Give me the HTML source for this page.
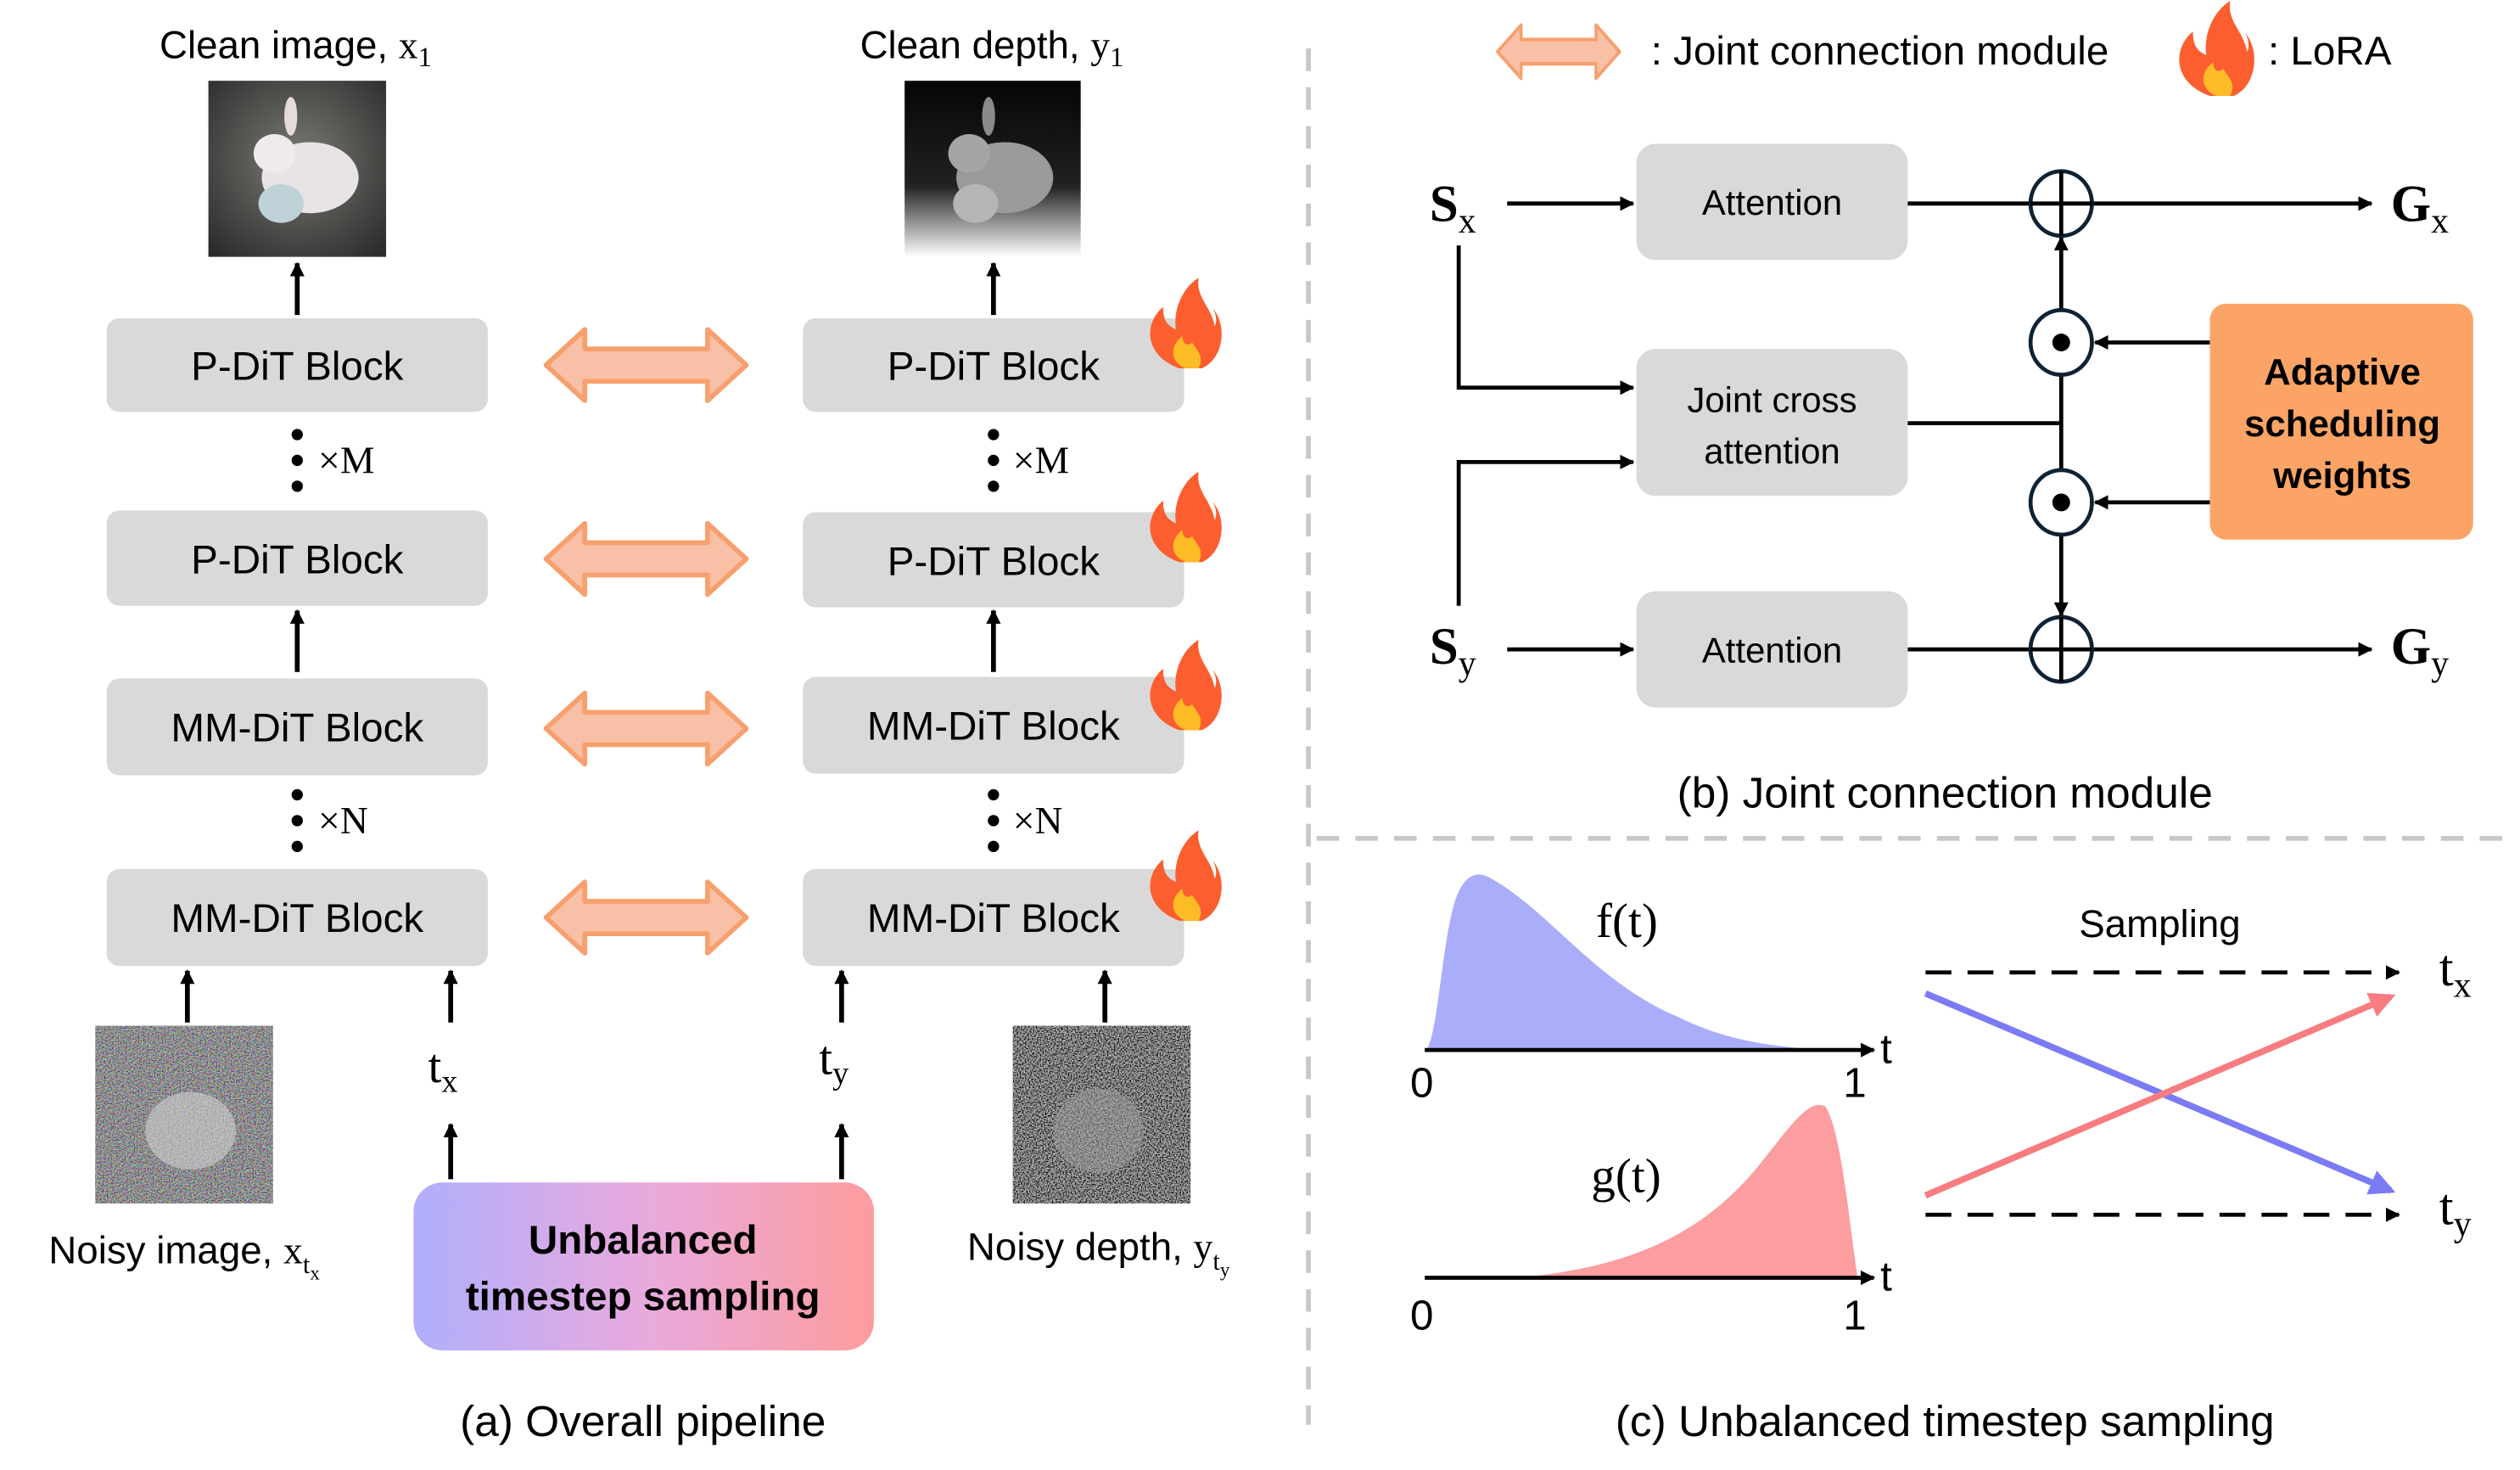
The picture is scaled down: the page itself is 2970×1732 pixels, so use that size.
<!DOCTYPE html>
<html><head><meta charset="utf-8"><style>
html,body{margin:0;padding:0;background:#fff}
svg{display:block}
text{font-family:"Liberation Sans","DejaVu Sans",sans-serif}
.s{font-family:"Liberation Serif","DejaVu Serif",serif}
</style></head><body>
<svg width="2970" height="1732" viewBox="0 0 1560 910" preserveAspectRatio="none" xmlns="http://www.w3.org/2000/svg">
<defs>
<marker id="ah" viewBox="0 0 10 10" refX="9" refY="5" markerWidth="9" markerHeight="9" markerUnits="userSpaceOnUse" orient="auto"><path d="M0,0L10,5L0,10z" fill="#000"/></marker>
<marker id="ahb" viewBox="0 0 10 10" refX="8" refY="5" markerWidth="4" markerHeight="4" orient="auto"><path d="M0,0L10,5L0,10z" fill="#7b7bf5"/></marker>
<marker id="ahr" viewBox="0 0 10 10" refX="8" refY="5" markerWidth="4" markerHeight="4" orient="auto"><path d="M0,0L10,5L0,10z" fill="#f87c80"/></marker>
<linearGradient id="ub" x1="0" x2="1"><stop offset="0" stop-color="#b0aefc"/><stop offset="0.5" stop-color="#e8aade"/><stop offset="1" stop-color="#fd9c9e"/></linearGradient>
<radialGradient id="cl" cx="0.5" cy="0.45" r="0.7"><stop offset="0" stop-color="#7a7a76"/><stop offset="1" stop-color="#2c2d2b"/></radialGradient>
<linearGradient id="dp" x1="0" y1="0" x2="0" y2="1"><stop offset="0" stop-color="#050505"/><stop offset="0.6" stop-color="#222"/><stop offset="1" stop-color="#fff"/></linearGradient>
<filter id="nz" x="0" y="0" width="1" height="1"><feTurbulence type="fractalNoise" baseFrequency="1.2" numOctaves="1" seed="3" result="t"/><feComponentTransfer in="t" result="c"><feFuncR type="linear" slope="3" intercept="-1"/><feFuncG type="linear" slope="3" intercept="-1"/><feFuncB type="linear" slope="3" intercept="-1"/><feFuncA type="linear" slope="0" intercept="0.5"/></feComponentTransfer><feComposite in="c" in2="SourceGraphic" operator="in" result="m"/><feBlend in="m" in2="SourceGraphic" mode="normal"/></filter>
<filter id="nzg" x="0" y="0" width="1" height="1"><feTurbulence type="fractalNoise" baseFrequency="1.2" numOctaves="1" seed="5" result="t"/><feColorMatrix in="t" type="saturate" values="0" result="g"/><feComponentTransfer in="g" result="c"><feFuncR type="linear" slope="4" intercept="-1.6"/><feFuncG type="linear" slope="4" intercept="-1.6"/><feFuncB type="linear" slope="4" intercept="-1.6"/><feFuncA type="linear" slope="0" intercept="0.5"/></feComponentTransfer><feComposite in="c" in2="SourceGraphic" operator="in" result="m"/><feBlend in="m" in2="SourceGraphic" mode="normal"/></filter>
<g id="dblarrow"><path d="M0,0 L24,-22 L24,-10 L100,-10 L100,-22 L124,0 L100,22 L100,10 L24,10 L24,22 Z" fill="#f8c0a6" stroke="#f7a06e" stroke-width="3" stroke-linejoin="round"/></g>
<g id="fire"><path d="M0,28 C-22,20 -22,0 -10,-10 C-10,0 -6,2 -2,4 C-4,-8 2,-22 12,-28 C10,-16 20,-10 22,2 C24,-2 22,-8 20,-10 C30,0 28,22 14,28 Z" fill="#fc5e2f"/><path d="M4,28 C-6,24 -6,14 2,8 C2,14 6,14 8,12 C10,16 16,20 12,28 Z" fill="#fdbb26"/></g>
</defs>

<line x1="810" y1="30" x2="810" y2="882" stroke="#c8c8c8" stroke-width="3" stroke-dasharray="14,10"/>
<line x1="815" y1="519" x2="1556" y2="519" stroke="#c8c8c8" stroke-width="3" stroke-dasharray="14,10"/>

<!-- (a) -->
<text x="183" y="36" font-size="24" text-anchor="middle">Clean image, <tspan class="s">x</tspan><tspan class="s" font-size="17" dy="5">1</tspan></text>
<text x="614" y="36" font-size="24" text-anchor="middle">Clean depth, <tspan class="s">y</tspan><tspan class="s" font-size="17" dy="5">1</tspan></text>
<rect x="129" y="50" width="110" height="109" fill="url(#cl)"/>
<ellipse cx="192" cy="110" rx="30" ry="22" fill="#e8e4e6"/><ellipse cx="170" cy="95" rx="13" ry="12" fill="#efebec"/><ellipse cx="180" cy="72" rx="4" ry="12" fill="#e6dada"/><ellipse cx="174" cy="126" rx="14" ry="12" fill="#bfd2d8"/>
<rect x="560" y="50" width="109" height="109" fill="url(#dp)"/>
<ellipse cx="622" cy="110" rx="30" ry="22" fill="#9a9a9a"/><ellipse cx="600" cy="95" rx="13" ry="12" fill="#a5a5a5"/><ellipse cx="612" cy="72" rx="4" ry="12" fill="#8a8a8a"/><ellipse cx="604" cy="126" rx="14" ry="12" fill="#b5b5b5"/>

<g fill="#d9d9d9">
<rect x="66" y="197" width="236" height="58" rx="8"/><rect x="66" y="316" width="236" height="59" rx="8"/>
<rect x="66" y="420" width="236" height="60" rx="8"/><rect x="66" y="538" width="236" height="60" rx="8"/>
<rect x="497" y="197" width="236" height="58" rx="8"/><rect x="497" y="317" width="236" height="59" rx="8"/>
<rect x="497" y="419" width="236" height="60" rx="8"/><rect x="497" y="538" width="236" height="60" rx="8"/>
</g>
<g font-size="25" text-anchor="middle">
<text x="184" y="235">P-DiT Block</text><text x="184" y="355">P-DiT Block</text>
<text x="184" y="459">MM-DiT Block</text><text x="184" y="577">MM-DiT Block</text>
<text x="615" y="235">P-DiT Block</text><text x="615" y="356">P-DiT Block</text>
<text x="615" y="458">MM-DiT Block</text><text x="615" y="577">MM-DiT Block</text>
</g>
<g fill="#000">
<circle cx="184" cy="269" r="3.5"/><circle cx="184" cy="285" r="3.5"/><circle cx="184" cy="301" r="3.5"/>
<circle cx="184" cy="492" r="3.5"/><circle cx="184" cy="508" r="3.5"/><circle cx="184" cy="524" r="3.5"/>
<circle cx="615" cy="269" r="3.5"/><circle cx="615" cy="285" r="3.5"/><circle cx="615" cy="301" r="3.5"/>
<circle cx="615" cy="492" r="3.5"/><circle cx="615" cy="508" r="3.5"/><circle cx="615" cy="524" r="3.5"/>
</g>
<g font-size="24"><text x="197" y="293" class="s">×M</text><text x="197" y="516" class="s">×N</text><text x="627" y="293" class="s">×M</text><text x="627" y="516" class="s">×N</text></g>

<g stroke="#000" stroke-width="3" marker-end="url(#ah)">
<line x1="184" y1="195" x2="184" y2="163"/><line x1="615" y1="195" x2="615" y2="163"/>
<line x1="184" y1="416" x2="184" y2="378"/><line x1="615" y1="416" x2="615" y2="378"/>
<line x1="116" y1="633" x2="116" y2="601"/><line x1="279" y1="633" x2="279" y2="601"/>
<line x1="521" y1="633" x2="521" y2="601"/><line x1="684" y1="633" x2="684" y2="601"/>
<line x1="279" y1="730" x2="279" y2="696"/><line x1="521" y1="730" x2="521" y2="696"/>
</g>
<use href="#dblarrow" x="338" y="226"/><use href="#dblarrow" x="338" y="346"/><use href="#dblarrow" x="338" y="451"/><use href="#dblarrow" x="338" y="568"/>
<use href="#fire" x="730" y="200"/><use href="#fire" x="730" y="320"/><use href="#fire" x="730" y="424"/><use href="#fire" x="730" y="542"/>

<text x="265" y="670" class="s" font-size="30">t<tspan font-size="20" dy="6">x</tspan></text>
<text x="507" y="665" class="s" font-size="30">t<tspan font-size="20" dy="6">y</tspan></text>

<rect x="59" y="635" width="110" height="110" fill="#4a4a52" filter="url(#nz)"/>
<ellipse cx="118" cy="700" rx="28" ry="24" fill="#d0d0d0" opacity="0.6"/>
<rect x="627" y="635" width="110" height="110" fill="#1e1e1e" filter="url(#nzg)"/>
<ellipse cx="680" cy="700" rx="28" ry="26" fill="#a0a0a0" opacity="0.5"/>
<text x="114" y="782" font-size="24" text-anchor="middle">Noisy image, <tspan class="s">x</tspan><tspan class="s" font-size="16" dy="6">t</tspan><tspan class="s" font-size="12" dy="4">x</tspan></text>
<text x="680" y="780" font-size="24" text-anchor="middle">Noisy depth, <tspan class="s">y</tspan><tspan class="s" font-size="16" dy="6">t</tspan><tspan class="s" font-size="12" dy="4">y</tspan></text>

<rect x="256" y="732" width="285" height="104" rx="18" fill="url(#ub)"/>
<text x="398" y="776" font-size="25" font-weight="bold" text-anchor="middle">Unbalanced</text>
<text x="398" y="811" font-size="25" font-weight="bold" text-anchor="middle">timestep sampling</text>
<text x="398" y="889" font-size="27" text-anchor="middle">(a) Overall pipeline</text>

<!-- (b) -->
<use href="#dblarrow" transform="translate(927,32) scale(0.61,0.75)"/>
<text x="1022" y="40" font-size="25">: Joint connection module</text>
<use href="#fire" transform="translate(1368,30) scale(1.05)"/>
<text x="1404" y="40" font-size="25">: LoRA</text>

<g fill="#d9d9d9"><rect x="1013" y="89" width="168" height="72" rx="12"/><rect x="1013" y="216" width="168" height="91" rx="12"/><rect x="1013" y="366" width="168" height="72" rx="12"/></g>
<g font-size="22" text-anchor="middle"><text x="1097" y="133">Attention</text><text x="1097" y="255">Joint cross</text><text x="1097" y="287">attention</text><text x="1097" y="410">Attention</text></g>
<rect x="1368" y="188" width="163" height="146" rx="10" fill="#fba466"/>
<g font-size="23" font-weight="bold" text-anchor="middle"><text x="1450" y="238">Adaptive</text><text x="1450" y="270">scheduling</text><text x="1450" y="302">weights</text></g>
<text x="885" y="137" class="s" font-size="32" font-weight="bold">S<tspan font-size="22" font-weight="normal" dy="7">x</tspan></text>
<text x="885" y="411" class="s" font-size="32" font-weight="bold">S<tspan font-size="22" font-weight="normal" dy="7">y</tspan></text>
<text x="1480" y="137" class="s" font-size="32" font-weight="bold">G<tspan font-size="22" font-weight="normal" dy="7">x</tspan></text>
<text x="1480" y="411" class="s" font-size="32" font-weight="bold">G<tspan font-size="22" font-weight="normal" dy="7">y</tspan></text>

<g stroke="#000" stroke-width="2.5" fill="none">
<line x1="933" y1="126" x2="1011" y2="126" marker-end="url(#ah)"/>
<line x1="933" y1="402" x2="1011" y2="402" marker-end="url(#ah)"/>
<polyline points="903,152 903,240 1011,240" marker-end="url(#ah)"/>
<polyline points="903,375 903,286 1011,286" marker-end="url(#ah)"/>
<line x1="1181" y1="126" x2="1468" y2="126" marker-end="url(#ah)"/>
<line x1="1181" y1="402" x2="1468" y2="402" marker-end="url(#ah)"/>
<line x1="1181" y1="262" x2="1276" y2="262"/>
<line x1="1276" y1="193" x2="1276" y2="147" marker-end="url(#ah)"/>
<line x1="1276" y1="231" x2="1276" y2="292"/>
<line x1="1276" y1="330" x2="1276" y2="381" marker-end="url(#ah)"/>
<line x1="1368" y1="212" x2="1297" y2="212" marker-end="url(#ah)"/>
<line x1="1368" y1="311" x2="1297" y2="311" marker-end="url(#ah)"/>
</g>
<g stroke="#0e2233" stroke-width="2.5" fill="#fff">
<ellipse cx="1276" cy="126" rx="19" ry="20"/><ellipse cx="1276" cy="212" rx="19" ry="20"/><ellipse cx="1276" cy="311" rx="19" ry="20"/><ellipse cx="1276" cy="402" rx="19" ry="20"/>
</g>
<g stroke="#000" stroke-width="2.5"><line x1="1257" y1="126" x2="1295" y2="126"/><line x1="1276" y1="106" x2="1276" y2="146"/><line x1="1257" y1="402" x2="1295" y2="402"/><line x1="1276" y1="382" x2="1276" y2="422"/></g>
<circle cx="1276" cy="212" r="5.5"/><circle cx="1276" cy="311" r="5.5"/>
<text x="1204" y="500" font-size="27" text-anchor="middle">(b) Joint connection module</text>

<!-- (c) -->
<path d="M883,650 C890,640 892,590 900,560 C906,540 915,538 925,545 C960,565 990,610 1040,630 C1070,645 1100,648 1130,650 Z" fill="#aaaefa"/>
<path d="M940,791 C1000,785 1050,770 1090,720 C1110,695 1120,680 1130,685 C1140,700 1145,760 1150,791 Z" fill="#fc9d9f"/>
<g stroke="#000" stroke-width="2.5">
<line x1="882" y1="650" x2="1160" y2="650" marker-end="url(#ah)"/>
<line x1="882" y1="791" x2="1160" y2="791" marker-end="url(#ah)"/>
<line x1="1192" y1="602" x2="1485" y2="602" stroke-dasharray="16,10" marker-end="url(#ah)"/>
<line x1="1192" y1="752" x2="1485" y2="752" stroke-dasharray="16,10" marker-end="url(#ah)"/>
</g>
<g class="s" font-size="26"><text x="873" y="679">0</text><text x="1141" y="679">1</text><text x="1164" y="658">t</text>
<text x="873" y="823">0</text><text x="1141" y="823">1</text><text x="1164" y="799">t</text></g>
<text x="988" y="580" class="s" font-size="30">f(t)</text>
<text x="985" y="738" class="s" font-size="30">g(t)</text>
<text x="1337" y="580" font-size="24" text-anchor="middle">Sampling</text>
<text x="1510" y="610" class="s" font-size="32">t<tspan font-size="22" dy="7">x</tspan></text>
<text x="1510" y="758" class="s" font-size="32">t<tspan font-size="22" dy="7">y</tspan></text>
<line x1="1192" y1="615" x2="1480" y2="737" stroke="#7b7bf5" stroke-width="4" marker-end="url(#ahb)"/>
<line x1="1192" y1="740" x2="1480" y2="617" stroke="#f87c80" stroke-width="4" marker-end="url(#ahr)"/>
<text x="1204" y="889" font-size="27" text-anchor="middle">(c) Unbalanced timestep sampling</text>
</svg>
</body></html>
